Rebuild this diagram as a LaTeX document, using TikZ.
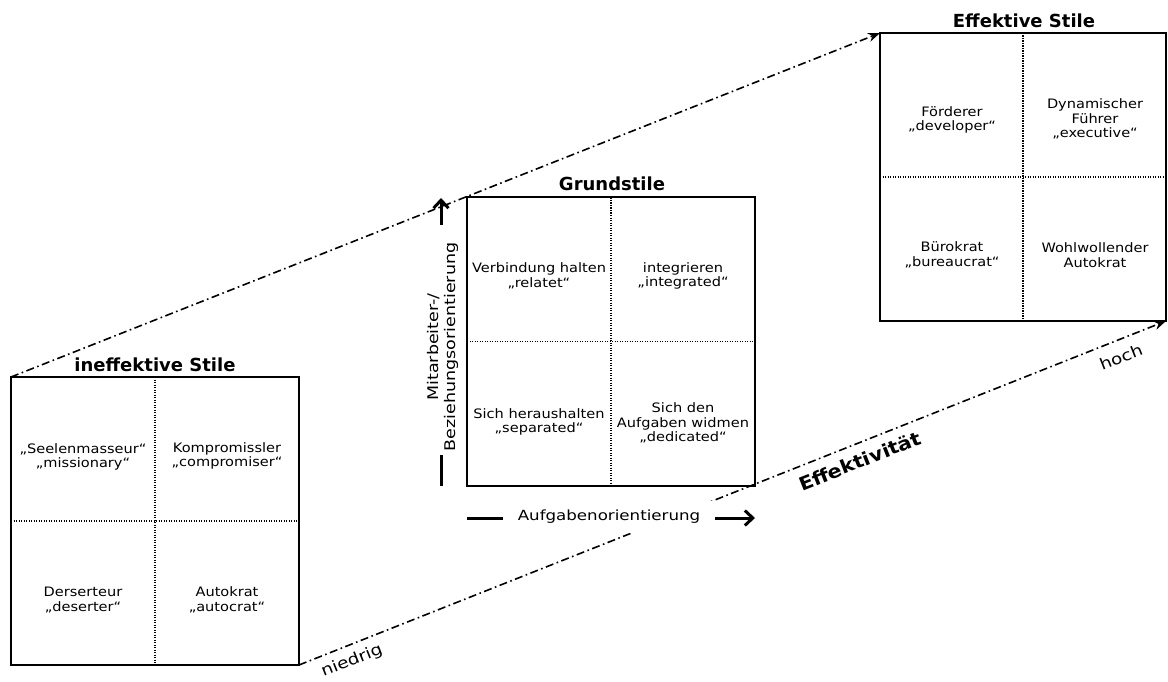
\documentclass[tikz,border=0pt]{standalone}
\usepackage{fontspec}
\setmainfont{DejaVu Sans}
\newfontfamily\cellf{DejaVu Sans}[FakeStretch=1.12]
\newfontfamily\axisf{DejaVu Sans}[FakeStretch=1.19]
\newfontfamily\effbold{DejaVu Sans Bold}[FakeStretch=1.12]
\usetikzlibrary{arrows.meta}
\tikzset{
  box/.style={draw, line width=2pt, minimum width=288pt, minimum height=288pt, inner sep=0pt, outer sep=0pt},
  divider/.style={line width=1.2pt, dash pattern=on 1.2pt off 1.3pt},
  effline/.style={line width=1.6pt, dash pattern=on 8pt off 3.5pt on 1.6pt off 3.5pt, -{Stealth[length=12pt,width=9pt]}},
  cell/.style={align=center, inner sep=0pt, font=\cellf\fontsize{13}{14.5}\selectfont},
  title/.style={font=\bfseries\fontsize{18}{20}\selectfont, anchor=base, inner sep=0pt},
  axislabel/.style={font=\axisf\fontsize{14}{17}\selectfont},
  vaxislabel/.style={font=\axisf\fontsize{14.7}{16.5}\selectfont},
  axisline/.style={line width=3pt},
  axisarrow/.style={line width=3pt, -{Straight Barb[length=8pt,width=15pt]}},
  scalelabel/.style={font=\axisf\fontsize{15.5}{17}\selectfont, rotate=21.66, inner sep=0pt},
  efflabel/.style={font=\effbold\fontsize{18.5}{20}\selectfont, rotate=21.66, inner sep=0pt},
}
\begin{document}
\begin{tikzpicture}[x=1pt,y=-1pt]
\useasboundingbox[fill=white] (0,0) rectangle (1168,682);
% boxes
\node[box] (L) at (155,521) {};
\node[box] (M) at (611,341.5) {};
\node[box, minimum width=286pt] (R) at (1023,177) {};
\draw[divider] (L.north) -- (L.south);
\draw[divider] (L.west) -- (L.east);
\draw[divider] (M.north) -- (M.south);
\draw[divider] (M.west) -- (M.east);
\draw[divider] (R.north) -- (R.south);
\draw[divider] (R.west) -- (R.east);
% titles
\node[title] (tL) at (155,371.5) {ineffektive Stile};
\node[title] (tM) at (612,191) {Grundstile};
\node[title] (tR) at (1024,27.5) {Effektive Stile};
% cells
\node[cell] (l1) at (83,457) {„Seelenmasseur“\\„missionary“};
\node[cell] (l2) at (227,456) {Kompromissler\\„compromiser“};
\node[cell] (l3) at (83,600) {Derserteur\\„deserter“};
\node[cell] (l4) at (227,600) {Autokrat\\„autocrat“};
\node[cell] (m1) at (539,276) {Verbindung halten\\„relatet“};
\node[cell] (m2) at (683,276) {integrieren\\„integrated“};
\node[cell] (m3) at (539,422) {Sich heraushalten\\„separated“};
\node[cell] (m4) at (683,423) {Sich den\\Aufgaben widmen\\„dedicated“};
\node[cell] (r1) at (952,120) {Förderer\\„developer“};
\node[cell] (r2) at (1095,119) {Dynamischer\\Führer\\„executive“};
\node[cell] (r3) at (952,255) {Bürokrat\\„bureaucrat“};
\node[cell] (r4) at (1095,255) {Wohlwollender\\Autokrat};
% effectiveness lines
\draw[effline] (L.north west) -- (R.north west);
\draw[effline] (L.south east) -- (R.south east);
% horizontal axis
\node[axislabel, fill=white, inner xsep=16pt, inner ysep=9.5pt] (ax) at (609,517) {Aufgabenorientierung};
\coordinate (ax0) at (467,518);
\coordinate (ax1) at (503,518);
\coordinate (ax2) at (715,518);
\coordinate (ax3) at (755,518);
\draw[axisline] (ax0) -- (ax1);
\draw[axisarrow] (ax2) -- (ax3);
% vertical axis
\node[vaxislabel, rotate=90, align=center, inner sep=0pt] (ay) at (443,347) {Mitarbeiter-/\\Beziehungsorientierung};
\coordinate (ay0) at (441,486);
\coordinate (ay1) at (441,455);
\coordinate (ay2) at (441,225);
\coordinate (ay3) at (441,198);
\draw[axisline] (ay0) -- (ay1);
\draw[axisarrow] (ay2) -- (ay3);
% scale labels
\node[scalelabel] (lo) at (352,661) {niedrig};
\node[scalelabel] (hi) at (1121,357) {hoch};
\node[efflabel] (eff) at (860,461) {Effektivität};
\end{tikzpicture}
\end{document}
